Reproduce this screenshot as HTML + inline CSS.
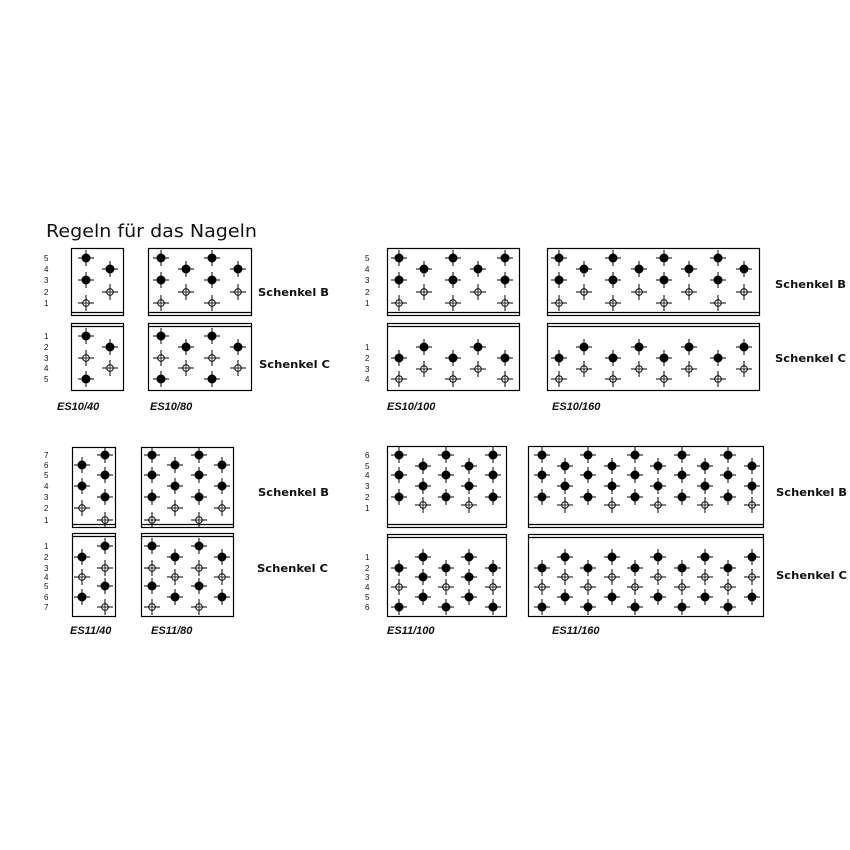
<!DOCTYPE html>
<html><head><meta charset="utf-8"><style>
html,body{margin:0;padding:0;background:#fff;}
svg{display:block;}
.t{font-family:"DejaVu Sans","Liberation Sans",sans-serif;font-size:18px;fill:#111;}
.s{font-family:"DejaVu Sans","Liberation Sans",sans-serif;font-size:11px;font-weight:bold;fill:#111;}
.e{font-family:"Liberation Sans",sans-serif;font-size:11px;font-weight:bold;font-style:italic;fill:#111;}
.n{font-family:"Liberation Sans",sans-serif;font-size:8px;fill:#111;}
</style></head><body>
<svg id="sv" width="850" height="850" viewBox="0 0 850 850" xmlns="http://www.w3.org/2000/svg">
<rect width="850" height="850" fill="#fff"/>
<text class="t" x="46" y="237" textLength="211" lengthAdjust="spacingAndGlyphs">Regeln für das Nageln</text>
<text class="s" x="258" y="296" textLength="71" lengthAdjust="spacingAndGlyphs">Schenkel B</text>
<text class="s" x="259" y="368" textLength="71" lengthAdjust="spacingAndGlyphs">Schenkel C</text>
<text class="s" x="775" y="288" textLength="71" lengthAdjust="spacingAndGlyphs">Schenkel B</text>
<text class="s" x="775" y="362" textLength="71" lengthAdjust="spacingAndGlyphs">Schenkel C</text>
<text class="s" x="258" y="496" textLength="71" lengthAdjust="spacingAndGlyphs">Schenkel B</text>
<text class="s" x="257" y="572" textLength="71" lengthAdjust="spacingAndGlyphs">Schenkel C</text>
<text class="s" x="776" y="496" textLength="71" lengthAdjust="spacingAndGlyphs">Schenkel B</text>
<text class="s" x="776" y="579" textLength="71" lengthAdjust="spacingAndGlyphs">Schenkel C</text>
<text class="e" x="57" y="410">ES10/40</text>
<text class="e" x="150" y="410">ES10/80</text>
<text class="e" x="387" y="410">ES10/100</text>
<text class="e" x="552" y="410">ES10/160</text>
<text class="e" x="70" y="634">ES11/40</text>
<text class="e" x="151" y="634">ES11/80</text>
<text class="e" x="387" y="634">ES11/100</text>
<text class="e" x="552" y="634">ES11/160</text>
<g id="lab">
<text class="n" x="44" y="261">5</text><text class="n" x="44" y="272">4</text><text class="n" x="44" y="283">3</text><text class="n" x="44" y="295">2</text><text class="n" x="44" y="306">1</text>
<text class="n" x="44" y="339">1</text><text class="n" x="44" y="350">2</text><text class="n" x="44" y="361">3</text><text class="n" x="44" y="371">4</text><text class="n" x="44" y="382">5</text>
<text class="n" x="365" y="261">5</text><text class="n" x="365" y="272">4</text><text class="n" x="365" y="283">3</text><text class="n" x="365" y="295">2</text><text class="n" x="365" y="306">1</text>
<text class="n" x="365" y="350">1</text><text class="n" x="365" y="361">2</text><text class="n" x="365" y="372">3</text><text class="n" x="365" y="382">4</text>
<text class="n" x="44" y="458">7</text><text class="n" x="44" y="468">6</text><text class="n" x="44" y="478">5</text><text class="n" x="44" y="489">4</text><text class="n" x="44" y="500">3</text><text class="n" x="44" y="511">2</text><text class="n" x="44" y="523">1</text>
<text class="n" x="44" y="549">1</text><text class="n" x="44" y="560">2</text><text class="n" x="44" y="571">3</text><text class="n" x="44" y="580">4</text><text class="n" x="44" y="589">5</text><text class="n" x="44" y="600">6</text><text class="n" x="44" y="610">7</text>
<text class="n" x="365" y="458">6</text><text class="n" x="365" y="469">5</text><text class="n" x="365" y="478">4</text><text class="n" x="365" y="489">3</text><text class="n" x="365" y="500">2</text><text class="n" x="365" y="511">1</text>
<text class="n" x="365" y="560">1</text><text class="n" x="365" y="571">2</text><text class="n" x="365" y="580">3</text><text class="n" x="365" y="590">4</text><text class="n" x="365" y="600">5</text><text class="n" x="365" y="610">6</text>
</g>
</svg>
<script>
(function(){
var sv=document.getElementById('sv'),NS='http://www.w3.org/2000/svg',h='';
function box(x1,y1,x2,y2,bottom){
 h+='<rect x="'+(x1+.5)+'" y="'+(y1+.5)+'" width="'+(x2-x1)+'" height="'+(y2-y1)+'" fill="none" stroke="#000" stroke-width="1.2"/>';
 var ly=bottom?y2-3:y1+3;
 h+='<line x1="'+x1+'" x2="'+x2+'" y1="'+(ly+.5)+'" y2="'+(ly+.5)+'" stroke="#000" stroke-width="1.2"/>';
}
function nail(x,y,f){
 h+='<line x1="'+(x-8)+'" x2="'+(x+8)+'" y1="'+y+'" y2="'+y+'" stroke="#000" stroke-width="1"/>';
 h+='<line x1="'+x+'" x2="'+x+'" y1="'+(y-8)+'" y2="'+(y+8)+'" stroke="#000" stroke-width="1"/>';
 h+='<circle cx="'+x+'" cy="'+y+'" r="'+(f?4:3.3)+'" fill="'+(f?'#000':'#fff')+'" stroke="#000" stroke-width="1"/>';
 if(!f){h+='<line x1="'+(x-3.3)+'" x2="'+(x+3.3)+'" y1="'+y+'" y2="'+y+'" stroke="#000" stroke-width=".8"/><line x1="'+x+'" x2="'+x+'" y1="'+(y-3.3)+'" y2="'+(y+3.3)+'" stroke="#000" stroke-width=".8"/>';}
}
// pattern: cols array, rowsY map, patA (even cols) & patB (odd cols) as [row,filled]
function grid(cols,ry,pa,pb){
 cols.forEach(function(x,i){(i%2?pb:pa).forEach(function(p){nail(x,ry[p[0]],p[1]);});});
}
var R10B={5:258,4:269,3:280,2:292,1:303}, R10C={1:336,2:347,3:358,4:368,5:379};
var B10a=[[5,1],[3,1],[1,0]],B10b=[[4,1],[2,0]];
var C10a=[[1,1],[3,0],[5,1]],C10b=[[2,1],[4,0]];
box(71,248,123,315,1);box(71,323,123,390,0);
grid([86,110],R10B,B10a,B10b);grid([86,110],R10C,C10a,C10b);
box(148,248,251,315,1);box(148,323,251,390,0);
grid([161,186,212,238],R10B,B10a,B10b);grid([161,186,212,238],R10C,C10a,C10b);
var R10C4={1:347,2:358,3:369,4:379};
var C4a=[[2,1],[4,0]],C4b=[[1,1],[3,0]];
var c100=[399,424,453,478,505],c160=[559,584,613,639,664,689,718,744];
box(387,248,519,315,1);box(387,323,519,390,0);
grid(c100,R10B,B10a,B10b);grid(c100,R10C4,C4a,C4b);
box(547,248,759,315,1);box(547,323,759,390,0);
grid(c160,R10B,B10a,B10b);grid(c160,R10C4,C4a,C4b);
// ES11 left
var R11B={7:455,6:465,5:475,4:486,3:497,2:508,1:520}, R11C={1:546,2:557,3:568,4:577,5:586,6:597,7:607};
box(72,447,115,527,1);box(72,533,115,616,0);
grid([82,105],R11B,[[6,1],[4,1],[2,0]],[[7,1],[5,1],[3,1],[1,0]]);
grid([82,105],R11C,[[2,1],[4,0],[6,1]],[[1,1],[3,0],[5,1],[7,0]]);
box(141,447,233,527,1);box(141,533,233,616,0);
grid([152,175,199,222],R11B,[[7,1],[5,1],[3,1],[1,0]],[[6,1],[4,1],[2,0]]);
grid([152,175,199,222],R11C,[[1,1],[3,0],[5,1],[7,0]],[[2,1],[4,0],[6,1]]);
// ES11 right
var R6B={6:455,5:466,4:475,3:486,2:497,1:505}, R6C={1:557,2:568,3:577,4:587,5:597,6:607};
var c11a=[399,423,446,469,493],c11b=[542,565,588,612,635,658,682,705,728,752];
var B6a=[[6,1],[4,1],[2,1]],B6b=[[5,1],[3,1],[1,0]];
box(387,446,506,527,1);box(387,534,506,616,0);
grid(c11a,R6B,B6a,B6b);grid(c11a,R6C,[[2,1],[4,0],[6,1]],[[1,1],[3,1],[5,1]]);
box(528,446,763,527,1);box(528,534,763,616,0);
grid(c11b,R6B,B6a,B6b);grid(c11b,R6C,[[2,1],[4,0],[6,1]],[[1,1],[3,0],[5,1]]);
var g=document.createElementNS(NS,'g');g.innerHTML=h;sv.appendChild(g);
})();
</script>
</body></html>
